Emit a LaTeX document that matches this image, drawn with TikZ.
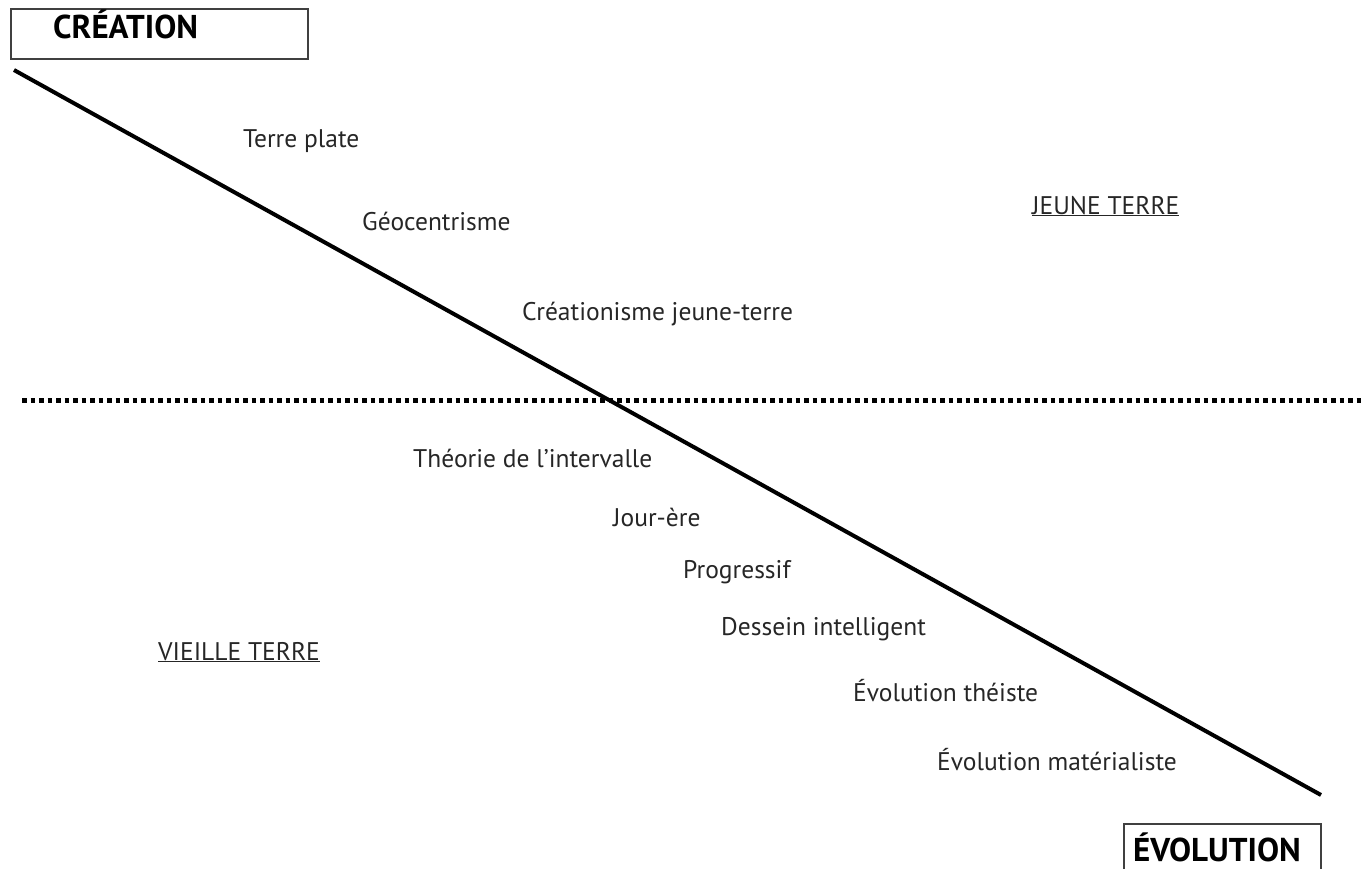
\documentclass[tikz,border=0pt]{standalone}
\usepackage{fontspec}
\setmainfont{PT Sans}
\begin{document}
\begin{tikzpicture}[x=1pt,y=-1pt,
  stance/.style={anchor=base west,text=black!85,inner sep=0pt,font=\fontsize{25.5}{30}\selectfont},
  pole/.style={anchor=base west,inner sep=0pt,font=\fontsize{33}{38}\selectfont\bfseries},
  polebox/.style={draw=black!75,line width=2pt,anchor=north west,inner sep=0pt}]
\useasboundingbox (0,0) rectangle (1370,868);

\node[polebox,minimum width=297pt,minimum height=50pt] (creabox) at (10,8) {};
\node[pole] (crea) at (53,38) {CRÉATION};
\node[polebox,minimum width=197pt,minimum height=52pt] (evobox) at (1123,823) {};
\node[pole] (evo) at (1133,861) {ÉVOLUTION};

\coordinate (top) at (14,70);
\coordinate (bottom) at (1321,795);
\draw[line width=4pt] (top) -- (bottom);

\coordinate (left) at (22,400);
\coordinate (right) at (1362,400);
\draw[line width=5pt,dash pattern=on 4.5pt off 4pt] (left) -- (right);

\node[stance] (plate) at (243,147) {Terre plate};
\node[stance] (geo) at (362,230) {Géocentrisme};
\node[stance] (jt) at (522,320) {Créationisme jeune-terre};
\node[stance] (young) at (1032,214) {\underline{JEUNE TERRE}};

\node[stance] (gap) at (413,467) {Théorie de l’intervalle};
\node[stance] (day) at (613,526) {Jour-ère};
\node[stance] (prog) at (683,578) {Progressif};
\node[stance] (id) at (721,635) {Dessein intelligent};
\node[stance] (theist) at (853,701) {Évolution théiste};
\node[stance] (mat) at (937,770) {Évolution matérialiste};
\node[stance] (old) at (158,660) {\underline{VIEILLE TERRE}};
\end{tikzpicture}
\end{document}
